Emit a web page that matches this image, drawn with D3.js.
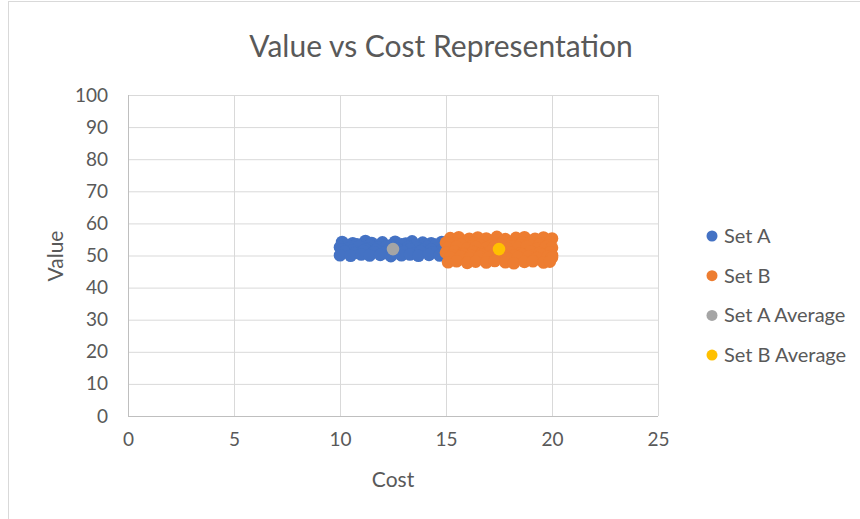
<!DOCTYPE html>
<html><head><meta charset="utf-8">
<script src="https://cdn.jsdelivr.net/npm/d3@7"></script>
<style>html,body{margin:0;padding:0;background:#fff;}svg{display:block;}</style>
</head><body>
<svg id="chart" width="860" height="519"></svg>
<script>
const title = "Value vs Cost Representation";
const xTicks = [0, 5, 10, 15, 20, 25];
const yTicks = [0, 10, 20, 30, 40, 50, 60, 70, 80, 90, 100];
const seriesNames = ["Set A", "Set B", "Set A Average", "Set B Average"];
const seriesColors = ["#4472C4", "#ED7D31", "#A5A5A5", "#FFC000"];

// [cost, value]
const setA = [
  [10.1,54.2],[10.6,53.8],[11.2,54.5],[11.5,53.9],[12.0,54.1],[12.6,54.3],[13.1,53.7],[13.4,54.4],[13.9,54.0],[14.3,53.8],[14.8,54.2],
  [10.3,53.3],[10.8,53.5],[11.4,53.1],[11.9,53.4],[12.4,53.2],[12.9,53.5],[13.5,53.1],[14.0,53.3],[14.5,53.4],[15.0,53.2],
  [10.0,52.6],[10.4,52.3],[10.9,52.8],[11.3,52.1],[11.8,52.5],[12.2,52.9],[12.7,52.2],[13.2,52.6],[13.6,52.4],[14.1,52.7],[14.6,52.3],[15.0,52.5],
  [10.1,51.8],[10.6,51.6],[11.2,51.9],[11.7,51.7],[12.3,51.8],[12.8,51.6],[13.3,51.9],[13.9,51.7],[14.3,51.8],[14.8,51.6],
  [10.2,51.2],[10.7,50.8],[11.1,51.4],[11.6,51.0],[12.1,50.9],[12.5,51.3],[13.0,51.1],[13.5,50.7],[13.8,51.2],[14.4,51.0],[14.9,51.4],
  [10.0,50.1],[10.5,49.9],[11.0,50.3],[11.4,50.0],[11.9,50.2],[12.4,49.8],[12.9,50.1],[13.3,50.3],[13.7,49.9],[14.2,50.2],[14.7,50.0],[15.0,50.1]
];
const setB = [
  [15.2,55.4],[15.6,55.7],[16.1,55.2],[16.5,55.6],[16.9,55.3],[17.4,55.8],[17.8,55.1],[18.3,55.5],[18.7,55.7],[19.2,55.2],[19.6,55.6],[20.0,55.3],
  [15.0,54.0],[15.4,53.7],[15.9,54.2],[16.3,53.9],[16.8,54.1],[17.2,53.6],[17.7,54.3],[18.1,53.8],[18.6,54.0],[19.0,54.2],[19.5,53.7],[19.9,54.1],
  [15.2,53.1],[15.7,53.3],[16.2,52.9],[16.6,53.2],[17.1,53.0],[17.6,53.3],[18.1,52.9],[18.5,53.2],[19.0,53.0],[19.4,53.3],[19.8,53.0],
  [15.1,52.4],[15.5,52.7],[16.0,52.2],[16.4,52.6],[16.9,52.3],[17.3,52.8],[17.9,52.1],[18.4,52.5],[18.8,52.7],[19.3,52.2],[19.7,52.6],[20.0,52.4],
  [15.0,50.9],[15.4,51.2],[15.8,50.7],[16.3,51.1],[16.7,50.8],[17.1,51.3],[17.6,50.9],[18.0,51.0],[18.5,50.6],[19.0,51.2],[19.4,50.8],[19.9,51.0],
  [15.3,50.1],[15.8,50.3],[16.2,49.9],[16.7,50.2],[17.2,50.0],[17.7,50.3],[18.2,49.9],[18.6,50.2],[19.1,50.0],[19.5,50.3],[20.0,50.1],
  [15.2,49.4],[15.7,49.7],[16.1,49.2],[16.6,49.6],[17.0,49.3],[17.5,49.8],[17.9,49.1],[18.4,49.5],[18.9,49.7],[19.3,49.2],[19.8,49.6],[20.0,49.4],
  [15.1,47.9],[15.5,48.2],[16.0,47.7],[16.4,48.1],[16.9,47.8],[17.3,48.3],[17.8,47.9],[18.2,47.6],[18.7,48.0],[19.1,48.2],[19.6,47.8],[19.9,48.1]
];
const setAAvg = [[12.5, 52.0]];
const setBAvg = [[17.5, 52.0]];

const svg = d3.select("#chart");
const font = "Lato, 'Open Sans', sans-serif";
const txt = "#595959";

svg.append("rect").attr("x", 8.5).attr("y", 1.5).attr("width", 900).attr("height", 600)
  .attr("fill", "#fff").attr("stroke", "#d9d9d9");

const x = d3.scaleLinear().domain([0, 25]).range([128, 658]);
const y = d3.scaleLinear().domain([0, 100]).range([416, 95]);

// gridlines
svg.append("g").attr("transform", "translate(0,416)")
  .call(d3.axisBottom(x).tickValues(xTicks).tickSize(-(416 - 95)).tickFormat(""))
  .call(g => g.select(".domain").remove())
  .call(g => g.selectAll("line").attr("stroke", "#d9d9d9"));
svg.append("g").attr("transform", "translate(128,0)")
  .call(d3.axisLeft(y).tickValues(yTicks).tickSize(-(658 - 128)).tickFormat(""))
  .call(g => g.select(".domain").remove())
  .call(g => g.selectAll("line").attr("stroke", "#d9d9d9"));

// axis lines
svg.append("line").attr("x1", 128).attr("x2", 658).attr("y1", 416.5).attr("y2", 416.5).attr("stroke", "#bfbfbf");
svg.append("line").attr("x1", 128.5).attr("x2", 128.5).attr("y1", 95).attr("y2", 416).attr("stroke", "#bfbfbf");

// tick labels
svg.append("g").attr("transform", "translate(0,416)")
  .call(d3.axisBottom(x).tickValues(xTicks).tickSize(0).tickPadding(17))
  .call(g => g.select(".domain").remove())
  .call(g => g.selectAll("text").attr("fill", txt).attr("font-family", font).attr("font-size", 19));
svg.append("g").attr("transform", "translate(128,0)")
  .call(d3.axisLeft(y).tickValues(yTicks).tickSize(0).tickPadding(20))
  .call(g => g.select(".domain").remove())
  .call(g => g.selectAll("text").attr("fill", txt).attr("font-family", font).attr("font-size", 19));

// titles
svg.append("text").attr("x", 441).attr("y", 57).attr("text-anchor", "middle")
  .attr("font-family", font).attr("font-size", 30).attr("fill", txt).text(title);
svg.append("text").attr("x", 393).attr("y", 487).attr("text-anchor", "middle")
  .attr("font-family", font).attr("font-size", 21).attr("fill", txt).text("Cost");
svg.append("text").attr("transform", "translate(63,256) rotate(-90)").attr("text-anchor", "middle")
  .attr("font-family", font).attr("font-size", 21).attr("fill", txt).text("Value");

// points
const all = [setA, setB, setAAvg, setBAvg];
all.forEach((data, i) => {
  svg.append("g").selectAll("circle").data(data).join("circle")
    .attr("cx", d => x(d[0])).attr("cy", d => y(d[1]))
    .attr("r", 6.3).attr("fill", seriesColors[i]);
});

// legend
const legend = svg.append("g");
seriesNames.forEach((name, i) => {
  const ly = 236 + i * 39.7;
  legend.append("circle").attr("cx", 712).attr("cy", ly).attr("r", 5.5).attr("fill", seriesColors[i]);
  legend.append("text").attr("x", 724).attr("y", ly + 7).attr("font-family", font)
    .attr("font-size", 20).attr("fill", txt).text(name);
});
</script>
</body></html>
